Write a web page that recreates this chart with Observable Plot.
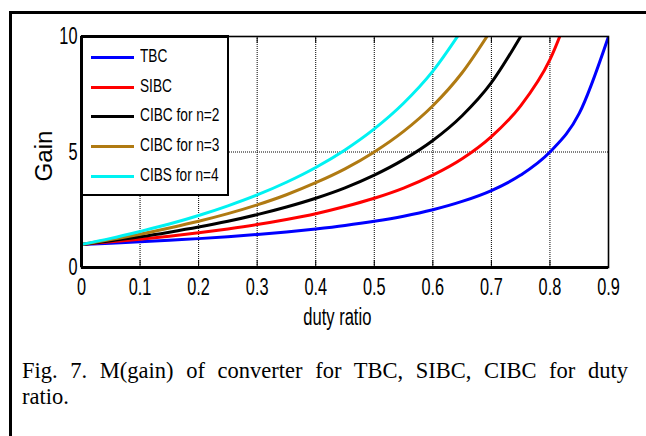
<!DOCTYPE html>
<html>
<head>
<meta charset="utf-8">
<script src="https://cdn.jsdelivr.net/npm/d3@7"></script>
<script src="https://cdn.jsdelivr.net/npm/@observablehq/plot@0.6"></script>
<style>
  html, body { margin: 0; padding: 0; background: #fff; }
  #wrap { position: relative; width: 646px; height: 436px; overflow: hidden; background: #fff; }
  #outer { position: absolute; left: 9px; top: 11px; width: 700px; height: 500px; border-left: 3px solid #000; border-top: 3px solid #000; }
  #chart { position: absolute; left: 0; top: 0; }
  .lbl { position: absolute; font-family: "Liberation Sans", Arial, sans-serif; font-size: 23px; color: #000; white-space: nowrap; line-height: 24px; }
  #legend { position: absolute; left: 81px; top: 35px; width: 144px; height: 156px; background: #fff; border: 2px solid #000; border-top-width: 3px; box-sizing: content-box; }
  .entry { position: absolute; left: 8px; height: 20px; }
  .swatch { position: absolute; left: 0; top: 8px; width: 43px; height: 3px; }
  .etext { position: absolute; left: 49px; top: -3px; font-family: "Liberation Sans", Arial, sans-serif; font-size: 19px; white-space: nowrap; transform: scaleX(0.72); transform-origin: left center; }
  #caption { position: absolute; left: 22px; top: 358px; width: 606px; font-family: "Liberation Serif", "Times New Roman", serif; font-size: 22.5px; line-height: 26px; color: #000; }
  #cap1 { text-align: justify; text-align-last: justify; }
</style>
</head>
<body>
<div id="wrap">
  <div id="outer"></div>
  <div id="chart"></div>
  <div id="legend"></div>
  <div class="lbl" id="xlabel" style="left:290px; top:305px; transform: scaleX(0.72); transform-origin: center;">duty ratio</div>
  <div class="lbl" id="ylabel" style="left:20px; top:144px; transform: rotate(-90deg) scaleX(1.05);">Gain</div>
  <div id="caption">
    <div id="cap1">Fig. 7. M(gain) of converter for TBC, SIBC, CIBC for duty</div>
    <div id="cap2">ratio.</div>
  </div>
</div>
<script>
// duty ratio samples
const duty = [0, 0.05, 0.10, 0.15, 0.20, 0.25, 0.30, 0.35, 0.40, 0.45, 0.50, 0.55, 0.60, 0.65, 0.70, 0.75, 0.80, 0.85, 0.90];
// gain for each converter
const tbc   = [1.00, 1.05, 1.11, 1.18, 1.25, 1.33, 1.43, 1.54, 1.67, 1.82, 2.00, 2.22, 2.50, 2.86, 3.33, 4.00, 5.00, 6.67, 10.0];
const sibc  = [1.00, 1.11, 1.22, 1.35, 1.50, 1.67, 1.86, 2.08, 2.33, 2.64, 3.00, 3.44, 4.00, 4.71, 5.67, 7.00, 9.00, 12.3];
const cibc2 = [1.00, 1.16, 1.33, 1.53, 1.75, 2.00, 2.29, 2.62, 3.00, 3.45, 4.00, 4.67, 5.50, 6.57, 8.00, 10.0];
const cibc3 = [1.00, 1.21, 1.44, 1.71, 2.00, 2.33, 2.71, 3.15, 3.67, 4.27, 5.00, 5.89, 7.00, 8.43, 10.3];
const cibs4 = [1.00, 1.26, 1.56, 1.88, 2.25, 2.67, 3.14, 3.69, 4.33, 5.09, 6.00, 7.11, 8.50, 10.3];

const seriesNames = ["TBC", "SIBC", "CIBC for n=2", "CIBC for n=3", "CIBS for n=4"];
const seriesValues = [tbc, sibc, cibc2, cibc3, cibs4];
const seriesColors = ["#0000ff", "#ff0000", "#000000", "#b07a12", "#00f2f2"];

const xTicks = [0, 0.1, 0.2, 0.3, 0.4, 0.5, 0.6, 0.7, 0.8, 0.9];
const xTickLabels = ["0", "0.1", "0.2", "0.3", "0.4", "0.5", "0.6", "0.7", "0.8", "0.9"];
const xGrid = [0.1, 0.2, 0.3, 0.4, 0.5, 0.6, 0.7, 0.8];
const yTicks = [0, 5, 10];
const yGrid = [5];

const rows = [];
seriesNames.forEach((name, k) => {
  seriesValues[k].forEach((g, i) => rows.push({series: name, d: duty[i], gain: g}));
});

const lines = seriesNames.map((name, k) =>
  Plot.line(rows.filter(r => r.series === name), {
    x: "d", y: "gain", stroke: seriesColors[k], strokeWidth: 3, curve: "monotone-x", clip: true
  })
);

const chart = Plot.plot({
  width: 646,
  height: 340,
  marginLeft: 81,
  marginRight: 38,
  marginTop: 36,
  marginBottom: 73,
  style: {background: "transparent", fontFamily: "'Liberation Sans', Arial, sans-serif", color: "#000"},
  x: {domain: [0, 0.9]},
  y: {domain: [0, 10]},
  marks: [
    Plot.ruleX(xGrid, {stroke: "#000", strokeWidth: 1, strokeDasharray: "1,1"}),
    Plot.ruleY(yGrid, {stroke: "#000", strokeWidth: 1, strokeDasharray: "1,1"}),
    Plot.ruleX(xGrid, {y1: 0, y2: 0.3, stroke: "#000", strokeWidth: 1}),
    Plot.ruleX(xGrid, {y1: 9.7, y2: 10, stroke: "#000", strokeWidth: 1}),
    ...lines,
    Plot.frame({stroke: "#000", strokeWidth: 1.6}),
    Plot.ruleX([0], {stroke: "#000", strokeWidth: 3}),
    Plot.ruleY([0], {stroke: "#000", strokeWidth: 3}),
    Plot.axisX({ticks: xTicks, tickFormat: (d, i) => xTickLabels[i], tickSize: 0, tickPadding: 10, label: null}),
    Plot.axisY({ticks: yTicks, tickSize: 0, tickPadding: 4, label: null})
  ]
});

chart.querySelectorAll('[aria-label="x-axis tick label"], [aria-label="y-axis tick label"]').forEach(g => {
  g.setAttribute("font-size", "24");
  g.style.fontSize = "24px";
});
chart.querySelectorAll('[aria-label="x-axis tick label"] text, [aria-label="y-axis tick label"] text').forEach(t => {
  const tr = t.getAttribute("transform") || "";
  t.setAttribute("transform", tr + " scale(0.68,1)");
  t.style.fontSize = "24px";
});

document.getElementById("chart").appendChild(chart);

// legend
const legend = document.getElementById("legend");
seriesNames.forEach((name, k) => {
  const e = document.createElement("div");
  e.className = "entry";
  e.style.top = (10 + k * 29.7) + "px";
  const s = document.createElement("div");
  s.className = "swatch";
  s.style.background = seriesColors[k];
  const t = document.createElement("div");
  t.className = "etext";
  t.textContent = name;
  e.appendChild(s); e.appendChild(t);
  legend.appendChild(e);
});
</script>
</body>
</html>
